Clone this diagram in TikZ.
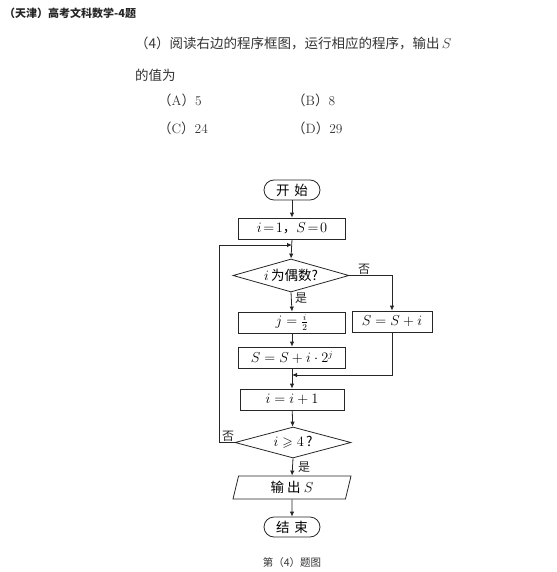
\documentclass[tikz,border=0pt]{standalone}
\usepackage{amssymb}
\usepackage{fontspec}
\newfontfamily\cjk{Noto Sans CJK SC}
\usetikzlibrary{arrows.meta,shapes.geometric}
\begin{document}
\begin{tikzpicture}[x=1pt,y=-1pt,
  line/.style={draw=black!85,line width=0.8pt},
  arr/.style={line,-{Latex[length=5pt,width=4.5pt]}},
  fcfont/.style={font=\cjk\fontsize{13.5}{13.5}\selectfont},
  procbox/.style={line,rectangle,minimum height=21pt,inner sep=0pt,fcfont},
  term/.style={line,rectangle,rounded corners=10pt,minimum width=56pt,minimum height=20pt,inner sep=0pt,fcfont},
  dec/.style={line,diamond,aspect=3.5,minimum width=116pt,minimum height=33pt,inner sep=0pt,fcfont},
  lbl/.style={font=\cjk\fontsize{12}{12}\selectfont,inner sep=0pt,text=black!85},
  qtext/.style={font=\cjk\fontsize{13.5}{13.5}\selectfont,inner sep=0pt,anchor=west,text=black!80}
]
\useasboundingbox (0,0) rectangle (556,572);
% header
\node[anchor=west,inner sep=0pt,font=\cjk\bfseries\fontsize{11}{11}\selectfont,text=black!85] (hdr) at (4,13) {（天津）高考文科数学-4题};
\node[qtext] (q1) at (135,43) {（4）阅读右边的程序框图，运行相应的程序，输出\,$S$};
\node[qtext] (q2) at (135,75) {的值为};
\node[qtext] (oa) at (158,100) {（{\rmfamily A}）{\rmfamily 5}};
\node[qtext] (ob) at (292,100) {（{\rmfamily B}）{\rmfamily 8}};
\node[qtext] (oc) at (158,128) {（{\rmfamily C}）{\rmfamily 24}};
\node[qtext] (od) at (292,128) {（{\rmfamily D}）{\rmfamily 29}};
% flowchart
\node[term] (start) at (292,190) {开\hspace{5pt}始};
\node[procbox,minimum width=107pt] (init) at (292,228.5) {$i\!=\!1$，$S\!=\!0$};
\coordinate (loopin) at (292,245);
\node[dec] (d1) at (291,275.5) {$i$\,为偶数?};
\node[procbox,minimum width=107pt] (pj) at (292,322.5) {$j=\frac{i}{2}$};
\node[procbox,minimum width=80pt] (ps1) at (392,321.5) {$S=S+i$};
\node[procbox,minimum width=107pt] (ps2) at (292,357.5) {$S=S+i\cdot 2^{j}$};
\coordinate (join) at (292,375);
\node[procbox,minimum width=104pt] (inc) at (292,399.5) {$i=i+1$};
\node[dec,minimum width=116pt,minimum height=31pt] (d2) at (293,442.5) {$i\geqslant 4$\,?};
\node[line,trapezium,trapezium left angle=66,trapezium right angle=114,trapezium stretches body,minimum width=118pt,minimum height=23pt,inner sep=0pt,fcfont] (out) at (292,487.5) {输\hspace{3pt}出\hspace{3pt}$S$};
\node[term] (end) at (292,527) {结\hspace{5pt}束};
\node[font=\cjk\fontsize{10.5}{10.5}\selectfont,inner sep=0pt,text=black!80] (cap) at (292,563) {第（4）题图};
% connectors
\draw[arr] (start) -- (init);
\draw[arr] (init.south) -- (d1.north);
\draw[arr] (d1.south) -- (pj.north);
\draw[arr] (pj) -- (ps2);
\draw[arr] (ps2.south) -- (inc.north);
\draw[arr] (d1.east) -| (ps1.north);
\draw[arr] (ps1.south) |- (join);
\draw[arr] (inc) -- (d2);
\draw[arr] (d2.south) -- (out.north);
\draw[arr] (out) -- (end);
\draw[arr] (d2.west) -- (219,442.5) |- (loopin);
% labels
\node[lbl] (no1) at (364,269) {否};
\node[lbl] (yes1) at (301,298) {是};
\node[lbl] (no2) at (228,436) {否};
\node[lbl] (yes2) at (304,467) {是};
\end{tikzpicture}
\end{document}
